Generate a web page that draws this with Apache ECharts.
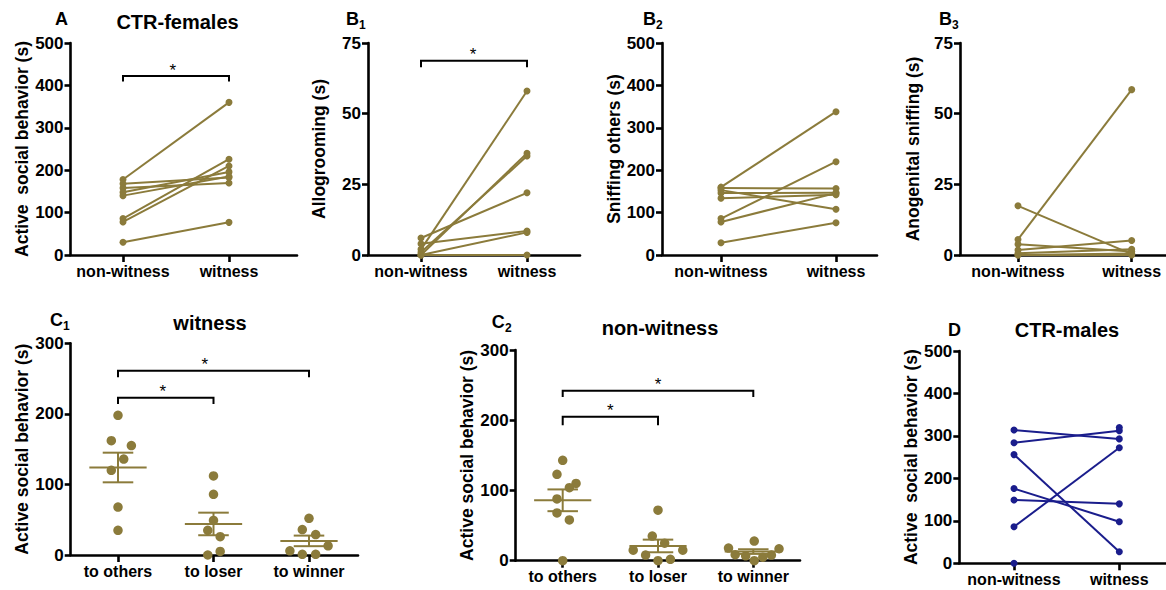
<!DOCTYPE html>
<html><head><meta charset="utf-8">
<script src="https://cdn.jsdelivr.net/npm/echarts@6/dist/echarts.min.js"></script>
<style>html,body{margin:0;padding:0;background:#fff}#chart{width:1166px;height:590px}</style>
</head><body><div id="chart"></div>
<script>
// ---------- categories ----------
const lineCategories = ['non-witness', 'witness'];
const groupCategories = ['to others', 'to loser', 'to winner'];

// ---------- A: CTR-females, active social behavior (s) ----------
const aNonWitness = [178, 168, 158, 148, 140, 86, 78, 30];
const aWitness    = [360, 183, 170, 196, 185, 226, 210, 77];

// ---------- B1: Allogrooming (s) ----------
const b1NonWitness = [2, 0, 1, 6, 4, 0, 0];
const b1Witness    = [58, 36, 35, 22, 8.5, 8, 0];

// ---------- B2: Sniffing others (s) ----------
const b2NonWitness = [160, 158, 153, 146, 134, 86, 78, 29];
const b2Witness    = [338, 157, 108, 147, 142, 220, 146, 76];

// ---------- B3: Anogenital sniffing (s) ----------
const b3NonWitness = [5.5, 17.4, 3.8, 1.8, 0.6, 0, 0];
const b3Witness    = [58.5, 0.3, 1.2, 5.1, 2, 0.5, 0];

// ---------- C1: witness ----------
const c1ToOthers = [198, 162, 155, 136, 120, 68, 35];
const c1ToOthersJitter = [0, -0.07, 0.14, 0.06, -0.07, 0, 0];
const c1ToLoser = [112, 86, 49, 35, 26, 5, 0];
const c1ToLoserJitter = [0, 0, 0, -0.06, 0.07, 0.07, -0.06];
const c1ToWinner = [52, 36, 29, 13, 6, 1, 1];
const c1ToWinnerJitter = [0, -0.07, 0.07, 0.2, -0.2, -0.07, 0.07];
const c1Mean = [124, 44, 20];
const c1Sem  = [21, 16, 7.5];

// ---------- C2: non-witness ----------
const c2ToOthers = [143, 123, 110, 104, 88, 68, 58, 0];
const c2ToOthersJitter = [0, -0.06, 0.14, 0.07, -0.06, -0.06, 0.07, 0];
const c2ToLoser = [72, 35, 25, 15, 15, 8, 0, 2];
const c2ToLoserJitter = [0, -0.06, 0.07, -0.26, 0.26, -0.13, 0, 0.13];
const c2ToWinner = [28, 18, 17, 8.5, 7, 8, 5, 0];
const c2ToWinnerJitter = [0.01, -0.26, 0.27, -0.19, -0.08, 0.19, 0.1, 0.01];
const c2Mean = [86, 21, 13];
const c2Sem  = [15.5, 9, 3.3];

// ---------- D: CTR-males ----------
const dNonWitness = [314, 284, 256, 176, 149, 86, 0, null];
const dWitness    = [293, 312, 27, 98, 140, 272, null, 320];

// ---------- significance brackets: [x1, x2, top, drop, starX] ----------
const aBrackets  = [[0, 1, 422, 409, 0.47]];
const b1Brackets = [[0, 1, 68.7, 66.4, 0.49]];
const c1Brackets = [[0, 2, 261, 252, 0.91], [0, 1, 223, 214, 0.47]];
const c2Brackets = [[0, 2, 242, 233, 1.0], [0, 1, 205, 193, 0.5]];

// ---------- styling ----------
const FONT = '"Liberation Sans", Arial, Helvetica, sans-serif';
const OLIVE = '#8b7b3b';
const NAVY = '#1a1d8c';
const AXW = 2.6;

const grids = [], xAxes = [], yAxes = [], series = [];

function addPanel(p) {
  const gi = grids.length;
  grids.push({left: p.left, top: p.top, width: p.end - p.left, height: p.bottom - p.top});
  const min = -(p.c0 - p.left) / p.unit, max = (p.end - p.c0) / p.unit;
  const idx = p.cats.map((_, i) => i);
  xAxes.push({
    gridIndex: gi, type: 'value', min: min, max: max,
    splitLine: {show: false},
    axisLine: {show: true, onZero: false, lineStyle: {color: '#000', width: AXW}},
    axisTick: {show: true, customValues: idx, length: 7, lineStyle: {color: '#000', width: AXW}},
    axisLabel: {customValues: idx, formatter: v => p.cats[Math.round(v)], color: '#000',
      fontWeight: 'bold', fontSize: 16, fontFamily: FONT, margin: 8}
  });
  yAxes.push({
    gridIndex: gi, type: 'value', min: 0, max: p.yMax, interval: p.yInterval,
    splitLine: {show: false},
    axisLine: {show: true, onZero: false, lineStyle: {color: '#000', width: AXW}},
    axisTick: {show: true, length: 6, lineStyle: {color: '#000', width: AXW}},
    axisLabel: {color: '#000', fontWeight: 'bold', fontSize: 17, fontFamily: FONT, margin: 7},
    name: p.yName, nameLocation: 'middle', nameGap: p.nameGap,
    nameTextStyle: {color: '#000', fontWeight: 'bold', fontSize: 17.5, fontFamily: FONT}
  });
  return gi;
}

function addPairs(gi, non, wit, color) {
  non.forEach((v, i) => {
    const data = [];
    if (v != null) data.push([0, v]);
    if (wit[i] != null) data.push([1, wit[i]]);
    series.push({
      type: 'line', xAxisIndex: gi, yAxisIndex: gi, data: data,
      symbol: 'circle', symbolSize: 7, showAllSymbol: true,
      lineStyle: {color: color, width: 2}, itemStyle: {color: color},
      animation: false, silent: true, z: 3
    });
  });
}

function addGroup(gi, groups, jitters, mean, sem) {
  groups.forEach((vals, c) => {
    series.push({
      type: 'scatter', xAxisIndex: gi, yAxisIndex: gi,
      data: vals.map((v, i) => [c + jitters[c][i], v]),
      symbol: 'circle', symbolSize: 9.5, itemStyle: {color: OLIVE, opacity: 1},
      animation: false, silent: true, z: 3
    });
  });
  series.push({
    type: 'custom', xAxisIndex: gi, yAxisIndex: gi,
    data: mean.map((m, c) => [c, m, sem[c]]),
    encode: {x: 0, y: 1},
    animation: false, silent: true, z: 4,
    renderItem: (params, api) => {
      const x = api.value(0), m = api.value(1), s = api.value(2);
      const pm = api.coord([x, m]), ph = api.coord([x, m + s]), pl = api.coord([x, m - s]);
      const mw = api.size([0.3, 0])[0], cw = api.size([0.16, 0])[0];
      const st = {stroke: OLIVE, lineWidth: 2, fill: null};
      return {type: 'group', children: [
        {type: 'line', shape: {x1: pm[0] - mw, y1: pm[1], x2: pm[0] + mw, y2: pm[1]}, style: st},
        {type: 'line', shape: {x1: ph[0], y1: ph[1], x2: pl[0], y2: pl[1]}, style: st},
        {type: 'line', shape: {x1: ph[0] - cw, y1: ph[1], x2: ph[0] + cw, y2: ph[1]}, style: st},
        {type: 'line', shape: {x1: pl[0] - cw, y1: pl[1], x2: pl[0] + cw, y2: pl[1]}, style: st}
      ]};
    }
  });
}

function addBrackets(gi, brackets) {
  series.push({
    type: 'custom', xAxisIndex: gi, yAxisIndex: gi, data: brackets,
    encode: {x: [0, 1], y: [2, 3]},
    animation: false, silent: true, z: 5,
    renderItem: (params, api) => {
      const x1 = api.value(0), x2 = api.value(1), top = api.value(2), drop = api.value(3), sx = api.value(4);
      const a = api.coord([x1, drop]), b = api.coord([x1, top]), c = api.coord([x2, top]), d = api.coord([x2, drop]);
      const s = api.coord([sx, top]);
      return {type: 'group', children: [
        {type: 'polyline', shape: {points: [a, b, c, d]}, style: {stroke: '#000', lineWidth: 2, fill: null}},
        {type: 'text', style: {text: '*', x: s[0], y: s[1] - 6, textAlign: 'center', textVerticalAlign: 'middle',
          font: '17px ' + FONT, fill: '#000'}}
      ]};
    }
  });
}

// ---------- panels ----------
const gA = addPanel({left: 70.5, end: 297, c0: 123, unit: 106, top: 43, bottom: 255, cats: lineCategories,
  yMax: 500, yInterval: 100, yName: 'Active  social behavior (s)', nameGap: 39});
addPairs(gA, aNonWitness, aWitness, OLIVE);
addBrackets(gA, aBrackets);

const gB1 = addPanel({left: 368, end: 580, c0: 421, unit: 106, top: 43, bottom: 255, cats: lineCategories,
  yMax: 75, yInterval: 25, yName: 'Allogrooming (s)', nameGap: 40});
addPairs(gB1, b1NonWitness, b1Witness, OLIVE);
addBrackets(gB1, b1Brackets);

const gB2 = addPanel({left: 662, end: 877, c0: 721, unit: 115, top: 43, bottom: 255, cats: lineCategories,
  yMax: 500, yInterval: 100, yName: 'Sniffing others (s)', nameGap: 37});
addPairs(gB2, b2NonWitness, b2Witness, OLIVE);

const gB3 = addPanel({left: 960, end: 1166, c0: 1018, unit: 113.7, top: 43, bottom: 255, cats: lineCategories,
  yMax: 75, yInterval: 25, yName: 'Anogenital sniffing (s)', nameGap: 38});
addPairs(gB3, b3NonWitness, b3Witness, OLIVE);

const gC1 = addPanel({left: 70.7, end: 358, c0: 118, unit: 95.5, top: 343.3, bottom: 555, cats: groupCategories,
  yMax: 300, yInterval: 100, yName: 'Active social behavior (s)', nameGap: 39});
addGroup(gC1, [c1ToOthers, c1ToLoser, c1ToWinner], [c1ToOthersJitter, c1ToLoserJitter, c1ToWinnerJitter], c1Mean, c1Sem);
addBrackets(gC1, c1Brackets);

const gC2 = addPanel({left: 515.7, end: 800, c0: 562.7, unit: 95.3, top: 350, bottom: 560.7, cats: groupCategories,
  yMax: 300, yInterval: 100, yName: 'Active social behavior (s)', nameGap: 38});
addGroup(gC2, [c2ToOthers, c2ToLoser, c2ToWinner], [c2ToOthersJitter, c2ToLoserJitter, c2ToWinnerJitter], c2Mean, c2Sem);
addBrackets(gC2, c2Brackets);

const gD = addPanel({left: 959.3, end: 1166, c0: 1014, unit: 105.3, top: 351, bottom: 563.3, cats: lineCategories,
  yMax: 500, yInterval: 100, yName: 'Active  social behavior (s)', nameGap: 38});
addPairs(gD, dNonWitness, dWitness, NAVY);

// ---------- titles & panel letters ----------
function txt(text, x, y, size, align) {
  return {type: 'text', x: x, y: y, silent: true,
    style: {text: text, font: 'bold ' + size + 'px ' + FONT, fill: '#000',
      textAlign: align || 'center', textVerticalAlign: 'middle'}};
}
const graphic = [
  txt('A', 55, 18.5, 18, 'left'), txt('CTR-females', 177.5, 21.5, 20),
  txt('B', 346, 19, 18, 'left'), txt('1', 359, 25, 12, 'left'),
  txt('B', 643, 19, 18, 'left'), txt('2', 656, 25, 12, 'left'),
  txt('B', 939, 19, 18, 'left'), txt('3', 952, 25, 12, 'left'),
  txt('C', 50, 320, 18, 'left'), txt('1', 63, 326, 12, 'left'), txt('witness', 210, 323, 20),
  txt('C', 491.7, 322, 18, 'left'), txt('2', 505, 328, 12, 'left'), txt('non-witness', 660, 328, 20),
  txt('D', 948, 330, 18, 'left'), txt('CTR-males', 1067, 330, 20)
];

const chart = echarts.init(document.getElementById('chart'), null, {renderer: 'svg'});
chart.setOption({
  animation: false,
  backgroundColor: '#fff',
  grid: grids, xAxis: xAxes, yAxis: yAxes, series: series,
  graphic: graphic
});
</script></body></html>
